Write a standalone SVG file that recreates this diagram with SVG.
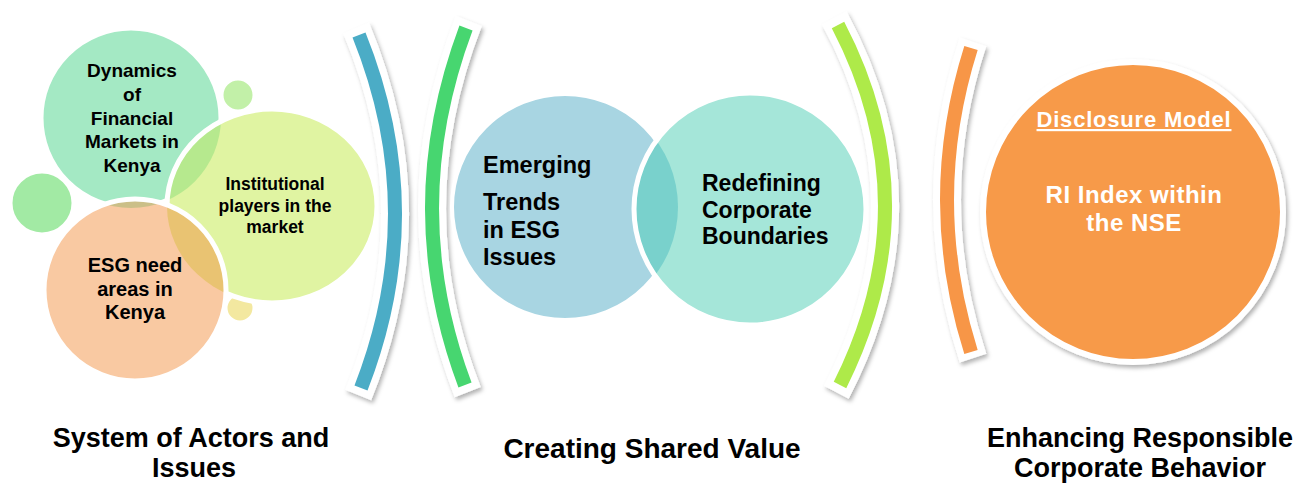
<svg xmlns="http://www.w3.org/2000/svg" width="1314" height="487" viewBox="0 0 1314 487">
<style>
.t{font-family:"Liberation Sans",Arial,sans-serif;font-weight:bold;fill:#000}
.w{fill:#fff}
.wl{fill:none;stroke:#fff;stroke-width:5}
.brw{fill:none;stroke:#fff;stroke-width:28}
.br{fill:none;stroke-width:14}
</style>
<defs>
<filter id="sh" x="-30%" y="-10%" width="160%" height="120%">
<feDropShadow dx="2" dy="3" stdDeviation="2" flood-color="#000" flood-opacity="0.3"/>
</filter>
<clipPath id="cDyn"><circle cx="131" cy="118" r="90"/></clipPath>
<clipPath id="cIns"><ellipse cx="272" cy="206" rx="105" ry="97"/></clipPath>
<clipPath id="cEmg"><circle cx="565" cy="207" r="113"/></clipPath>
</defs>
<rect width="1314" height="487" fill="#fff"/>

<g id="small-circles">
<circle cx="42" cy="203" r="32" fill="#A2EAA4" stroke="#fff" stroke-width="5"/>
<circle cx="238" cy="95" r="17" fill="#C2F0A8" stroke="#fff" stroke-width="5"/>
<circle cx="240" cy="308" r="15" fill="#F3E8A0" stroke="#fff" stroke-width="5"/>
</g>

<g id="node-dynamics">
<circle cx="131" cy="118" r="90" fill="#A4E9C4" stroke="#fff" stroke-width="5"/>
<text class="t" font-size="19" text-anchor="middle"><tspan x="132" y="77">Dynamics</tspan><tspan x="132" y="101">of</tspan><tspan x="132" y="125">Financial</tspan><tspan x="132" y="148">Markets in</tspan><tspan x="132" y="172">Kenya</tspan></text>
</g>

<g id="node-institutional">
<ellipse cx="272" cy="206" rx="105" ry="97" fill="#E0F4A2"/>
<ellipse cx="272" cy="206" rx="105" ry="97" fill="#B6E98E" clip-path="url(#cDyn)"/>
<ellipse cx="272" cy="206" rx="105" ry="97" class="wl"/>
<text class="t" font-size="17.5" text-anchor="middle"><tspan x="275" y="190">Institutional</tspan><tspan x="275" y="212">players in the</tspan><tspan x="275" y="233">market</tspan></text>
</g>

<g id="node-esg">
<circle cx="135" cy="290" r="91" fill="#F9C9A2"/>
<circle cx="135" cy="290" r="91" fill="#CBBF88" clip-path="url(#cDyn)"/>
<circle cx="135" cy="290" r="91" fill="#E9C372" clip-path="url(#cIns)"/>
<circle cx="135" cy="290" r="91" class="wl"/>
<text class="t" font-size="20" text-anchor="middle"><tspan x="135" y="272">ESG need</tspan><tspan x="135" y="296">areas in</tspan><tspan x="135" y="319">Kenya</tspan></text>
</g>

<g id="brackets" filter="url(#sh)">
<path class="brw" d="M356.1,28 Q432.9,211 358.2,395.1"/>
<path class="br" stroke="#4BACC6" d="M359,35 Q430,211 361,388"/>
<path class="brw" d="M468.8,20.8 Q395.8,208.1 467.7,392.1"/>
<path class="br" stroke="#47D66F" d="M466,28 Q398.5,208 465,385"/>
<path class="brw" d="M834.2,17.9 Q934.8,202.9 836.3,392.3"/>
<path class="br" stroke="#AEEA48" d="M838,25 Q931,203 840,385"/>
<path class="brw" stroke-width="24" d="M973,41.9 Q921,200 973,358.1"/>
<path class="br" stroke="#F79646" stroke-width="11" d="M971,48 Q923,200 971,352"/>
</g>

<g id="node-emerging">
<circle cx="565" cy="207" r="113" fill="#A8D5E2" stroke="#fff" stroke-width="4"/>
<text class="t" font-size="23.5"><tspan x="483" y="173">Emerging</tspan><tspan x="483" y="210">Trends</tspan><tspan x="483" y="238">in ESG</tspan><tspan x="483" y="265">Issues</tspan></text>
</g>

<g id="node-redefining">
<circle cx="750" cy="209" r="116" fill="#A5E6D9"/>
<circle cx="750" cy="209" r="116" fill="#79D1CC" clip-path="url(#cEmg)"/>
<circle cx="750" cy="209" r="116" class="wl"/>
<text class="t" font-size="23"><tspan x="702" y="191">Redefining</tspan><tspan x="702" y="218">Corporate</tspan><tspan x="702" y="244">Boundaries</tspan></text>
</g>

<g id="node-disclosure">
<circle cx="1133" cy="212" r="150" fill="#F79A4A" stroke="#fff" stroke-width="6" filter="url(#sh)"/>
<text class="t w" font-size="22" letter-spacing="0.8" text-anchor="middle" text-decoration="underline" x="1134" y="127">Disclosure Model</text>
<text class="t w" font-size="24" letter-spacing="0.5" text-anchor="middle"><tspan x="1134" y="203">RI Index within</tspan><tspan x="1134" y="231">the NSE</tspan></text>
</g>

<g id="labels">
<text class="t" font-size="27" text-anchor="middle"><tspan x="191" y="447">System of Actors and</tspan><tspan x="194" y="477">Issues</tspan></text>
<text class="t" font-size="28" text-anchor="middle" x="652" y="458">Creating Shared Value</text>
<text class="t" font-size="27" text-anchor="middle"><tspan x="1140" y="447">Enhancing Responsible</tspan><tspan x="1140" y="477">Corporate Behavior</tspan></text>
</g>
</svg>
